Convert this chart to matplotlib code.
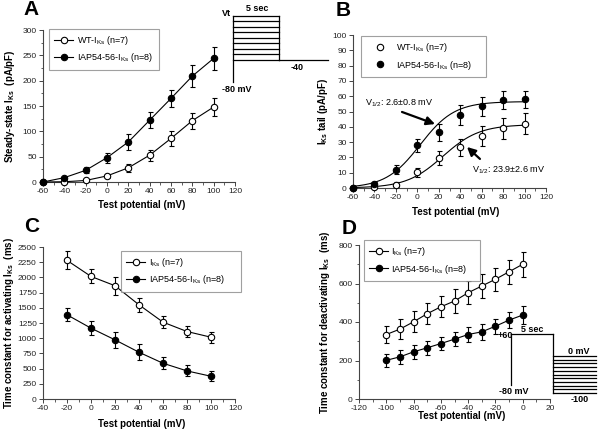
import matplotlib
matplotlib.use('Agg')
import matplotlib.pyplot as plt
import numpy as np
from matplotlib.ticker import MultipleLocator

plt.rcParams['font.family'] = ['Liberation Sans', 'DejaVu Sans']
plt.rcParams['mathtext.fontset'] = 'custom'
plt.rcParams['mathtext.rm'] = 'Liberation Sans'
plt.rcParams['mathtext.bf'] = 'Liberation Sans:bold'
plt.rcParams['mathtext.it'] = 'Liberation Sans:italic'
plt.rcParams['axes.unicode_minus'] = False

# ---------------- data ----------------
A_x = [-60, -40, -20, 0, 20, 40, 60, 80, 100]
A_wt = [0, 0.5, 3, 12, 28, 53, 86, 121, 148]
A_wt_err = [0, 0, 2, 4, 7.5, 11, 14, 16, 18]
A_iap = [0, 8.6, 23, 48, 79, 122, 165, 209, 244]
A_iap_err = [0, 2, 6, 10, 15, 16, 17, 21, 22]

B_x = [-60, -40, -20, 0, 20, 40, 60, 80, 100]
B_wt = [0, 0.5, 2.2, 10.2, 19.6, 26.5, 34, 39, 42]
B_wt_err = [0, 0, 1.5, 3, 4.5, 5.5, 6.5, 7, 7]
B_iap = [0, 2.6, 12, 28, 36.5, 47.8, 53.3, 57.6, 58]
B_iap_err = [0, 1, 3, 4.3, 5.5, 6.5, 6, 6, 5.5]
# Boltzmann fit parameters (WT, IAP)
B_fit_imax = [41.5, 56.5]
B_fit_vhalf = [23.9, 2.6]
B_fit_k = [17.0, 16.0]

C_x = [-20, 0, 20, 40, 60, 80, 100]
C_wt = [2280, 2016, 1863, 1549, 1264, 1110, 1016]
C_wt_err = [150, 115, 150, 115, 95, 85, 90]
C_iap = [1385, 1165, 973, 769, 588, 462, 374]
C_iap_err = [105, 110, 137, 130, 95, 90, 80]

D_x = [-100, -90, -80, -70, -60, -50, -40, -30, -20, -10, 0]
D_wt = [335, 363, 401, 443, 479, 509, 552, 587, 622, 661, 700]
D_wt_err = [45, 50, 55, 55, 55, 60, 60, 60, 60, 62, 65]
D_iap = [201, 219, 245, 266, 288, 311, 335, 349, 378, 410, 436]
D_iap_err = [35, 35, 35, 35, 35, 38, 40, 40, 40, 42, 45]

W, H = 600, 429
fig = plt.figure(figsize=(6.0, 4.29), dpi=100)


def ax_px(l, t, r, b):
    return fig.add_axes([l / W, 1 - b / H, (r - l) / W, (b - t) / H])


AX = '#444444'


def style(ax, xlim, xmaj, xmin, ylim, ymaj, ymin):
    ax.set_xlim(xlim)
    ax.set_ylim(ylim)
    for s in ['top', 'right']:
        ax.spines[s].set_visible(False)
    for s in ['left', 'bottom']:
        ax.spines[s].set_color(AX)
        ax.spines[s].set_linewidth(0.8)
    ax.xaxis.set_major_locator(MultipleLocator(xmaj))
    ax.yaxis.set_major_locator(MultipleLocator(ymaj))
    if xmin:
        ax.xaxis.set_minor_locator(MultipleLocator(xmin))
    if ymin:
        ax.yaxis.set_minor_locator(MultipleLocator(ymin))
    ax.tick_params(which='major', direction='out', length=3, width=0.7,
                   color=AX, labelsize=6, labelcolor='#222222', pad=1.5)
    ax.tick_params(which='minor', direction='out', length=1.8, width=0.6,
                   color=AX)


def series(ax, x, y, err, filled, line=True):
    x = np.asarray(x, float); y = np.asarray(y, float); e = np.asarray(err, float)
    m = e > 0
    ax.errorbar(x[m], y[m], yerr=e[m], fmt='none', ecolor='black',
                elinewidth=0.8, capsize=1.8, capthick=0.8, zorder=2, clip_on=False)
    h, = ax.plot(x, y, linestyle='-' if line else 'none', color='black', lw=0.8,
                 marker='o', ms=4.6, mec='black', mew=0.8,
                 mfc='black' if filled else 'white', zorder=3, clip_on=False)
    return h


def legend(ax, handles, labels, anchor, hl, htp):
    lg = ax.legend(handles, labels, loc='upper left', bbox_to_anchor=anchor,
                   bbox_transform=ax.transAxes, borderaxespad=0, fontsize=6.5,
                   frameon=True, fancybox=False, handlelength=hl,
                   handletextpad=htp, borderpad=0.6, labelspacing=0.45)
    fr = lg.get_frame()
    fr.set_edgecolor('#888888')
    fr.set_linewidth(0.8)
    lg.set_zorder(5)
    return lg


IKs = r'I$_{\mathrm{Ks}}$'
IKsb = r'I$_{\mathbf{Ks}}$'

# ---------------- Panel A ----------------
axA = ax_px(43, 30, 235, 182)
style(axA, (-60, 120), 20, 10, (0, 300), 50, 25)
hA1 = series(axA, A_x, A_wt, A_wt_err, False)
hA2 = series(axA, A_x, A_iap, A_iap_err, True)
legend(axA, [hA1, hA2], ['WT-' + IKs + ' (n=7)', 'IAP54-56-' + IKs + ' (n=8)'],
       (0.031, 1.007), 2.1, 0.45)
axA.set_xlabel('Test potential (mV)', fontsize=7, fontweight='bold', va='center')
axA.xaxis.set_label_coords(0.516, -0.151)
axA.set_ylabel('Steady-state ' + IKsb + '  (pA/pF)', fontsize=7, fontweight='bold', va='center')
axA.yaxis.set_label_coords(-0.172, 0.5)

# ---------------- Panel B ----------------
axB = ax_px(353, 35, 546, 188)
style(axB, (-60, 120), 20, 10, (0, 100), 10, None)
xx = np.linspace(-60, 100, 200)
for imax, vh, k in zip(B_fit_imax, B_fit_vhalf, B_fit_k):
    axB.plot(xx, imax / (1 + np.exp(-(xx - vh) / k)), color='black', lw=0.8, zorder=1)
hB1 = series(axB, B_x, B_wt, B_wt_err, False, line=False)
hB2 = series(axB, B_x, B_iap, B_iap_err, True, line=False)
legend(axB, [hB1, hB2], ['WT-' + IKs + ' (n=7)    ', 'IAP54-56-' + IKs + ' (n=8)    '],
       (0.041, 0.993), 3.0, 0.3)
axB.set_xlabel('Test potential (mV)', fontsize=7, fontweight='bold', va='center')
axB.xaxis.set_label_coords(0.534, -0.157)
axB.set_ylabel(IKsb + ' tail (pA/pF)', fontsize=7, fontweight='bold', va='center')
axB.yaxis.set_label_coords(-0.155, 0.5)
arr = dict(arrowstyle='-|>,head_length=0.5,head_width=0.25', color='black', lw=1.6,
           shrinkA=0, shrinkB=0)
axB.annotate('', xy=(16.5, 41.8), xytext=(-14.3, 49.7), arrowprops=arr)
axB.annotate('', xy=(46.3, 26.8), xytext=(58.4, 19.0), arrowprops=arr)
axB.text(-48.8, 55.6, r'V$_{1/2}$: 2.6$\pm$0.8 mV', fontsize=6.5, va='center', ha='left')
axB.text(51, 11.8, r'V$_{1/2}$: 23.9$\pm$2.6 mV', fontsize=6.5, va='center', ha='left')

# ---------------- Panel C ----------------
axC = ax_px(43, 247, 235, 399)
style(axC, (-40, 120), 20, 10, (0, 2500), 250, None)
hC1 = series(axC, C_x, C_wt, C_wt_err, False)
hC2 = series(axC, C_x, C_iap, C_iap_err, True)
legend(axC, [hC1, hC2], [IKs + ' (n=7)', 'IAP54-56-' + IKs + ' (n=8)     '],
       (0.406, 0.974), 2.1, 0.45)
axC.set_xlabel('Test potential (mV)', fontsize=7, fontweight='bold', va='center')
axC.xaxis.set_label_coords(0.516, -0.164)
axC.set_ylabel('Time constant for activating ' + IKsb + '  (ms)', fontsize=7,
               fontweight='bold', va='center')
axC.yaxis.set_label_coords(-0.177, 0.5)

# ---------------- Panel D ----------------
axD = ax_px(359, 245, 550, 399)
style(axD, (-120, 20), 20, 10, (0, 800), 200, 100)
hD1 = series(axD, D_x, D_wt, D_wt_err, False)
hD2 = series(axD, D_x, D_iap, D_iap_err, True)
legend(axD, [hD1, hD2], [IKs + ' (n=7)', 'IAP54-56-' + IKs + ' (n=8)    '],
       (0.026, 1.032), 2.1, 0.3)
axD.set_xlabel('Test potential (mV)', fontsize=7, fontweight='bold', va='center')
axD.xaxis.set_label_coords(0.54, -0.112)
axD.set_ylabel('Time constant for deactivating ' + IKsb + '  (ms)', fontsize=7,
               fontweight='bold', va='center')
axD.yaxis.set_label_coords(-0.178, 0.5)

# ---------------- overlay: letters and voltage protocols ----------------
ov = fig.add_axes([0, 0, 1, 1], zorder=10)
ov.set_xlim(0, W)
ov.set_ylim(H, 0)
ov.axis('off')
ov.patch.set_alpha(0)

for s, (x, y) in zip('ABCD', [(31.5, 9.5), (343, 10), (32, 227), (349, 228)]):
    ov.text(x, y, s, fontsize=15, fontweight='bold', ha='center', va='center')

plw = 0.9
# protocol A
ov.plot([233, 233], [15.7, 82], color='black', lw=plw)
for yy in np.linspace(15.7, 60, 9):
    ov.plot([233, 279], [yy, yy], color='black', lw=plw)
ov.plot([279, 279], [15.7, 60], color='black', lw=plw)
ov.plot([279, 328], [60, 60], color='black', lw=plw)
pk = dict(fontsize=6.5, fontweight='bold', ha='center', va='center')
ov.text(227, 13, 'Vt', **pk)
ov.text(257, 8.5, '5 sec', **pk)
ov.text(297, 67, '-40', **pk)
ov.text(237, 89, '-80 mV', **pk)

# protocol D
ov.plot([511, 511], [334, 385], color='black', lw=plw)
ov.plot([511, 553], [334, 334], color='black', lw=plw)
ov.plot([553, 553], [334, 393], color='black', lw=plw)
for yy in np.linspace(356, 393, 11):
    ov.plot([553, 596], [yy, yy], color='black', lw=plw)
ov.text(505, 335.5, '+60', **pk)
ov.text(532, 329, '5 sec', **pk)
ov.text(514, 391, '-80 mV', **pk)
ov.text(579, 352, '0 mV', **pk)
ov.text(580, 400, '-100', **pk)

fig.savefig('out.png', dpi=100)
